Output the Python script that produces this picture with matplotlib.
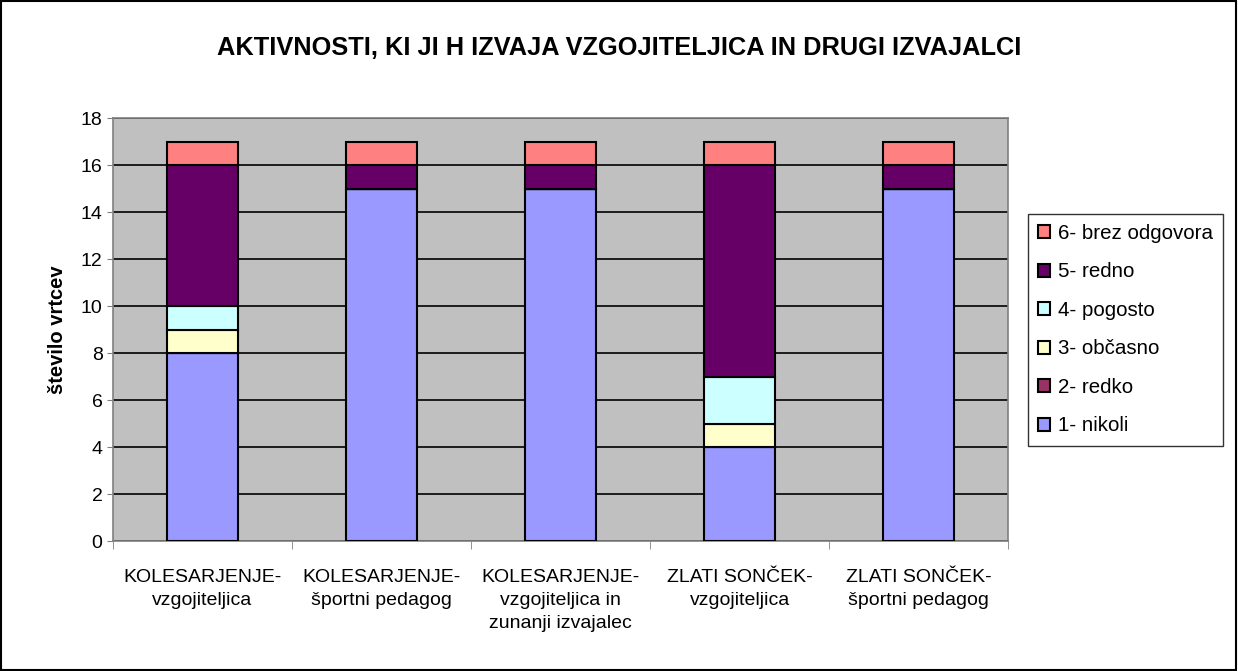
import numpy as np
import matplotlib.pyplot as plt
from matplotlib.patches import Rectangle

categories = ["KOLESARJENJE-\nvzgojiteljica", "KOLESARJENJE-\nšportni pedagog",
              "KOLESARJENJE-\nvzgojiteljica in\nzunanji izvajalec",
              "ZLATI SONČEK-\nvzgojiteljica", "ZLATI SONČEK-\nšportni pedagog"]
series = ["1- nikoli", "2- redko", "3- občasno", "4- pogosto", "5- redno", "6- brez odgovora"]
nikoli = [8, 15, 15, 4, 15]
redko = [0, 0, 0, 0, 0]
obcasno = [1, 0, 0, 1, 0]
pogosto = [1, 0, 0, 2, 0]
redno = [6, 1, 1, 9, 1]
brez = [1, 1, 1, 1, 1]
colors = ["#9999FF", "#993366", "#FFFFCC", "#CCFFFF", "#660066", "#FF8080"]

plt.rcParams['font.family'] = ['Liberation Sans', 'DejaVu Sans']

fig = plt.figure(figsize=(12.38, 6.71), dpi=100)
ax = fig.add_axes([0.0913, 0.1937, 0.723, 0.630])
ax.set_facecolor("#C0C0C0")

x = np.arange(len(categories))
bottom = np.zeros(len(categories))
handles = []
for name, vals, c in zip(series, [nikoli, redko, obcasno, pogosto, redno, brez], colors):
    vals = np.array(vals)
    h = ax.bar(x, vals, 0.4, bottom=bottom, color=c, edgecolor="black", linewidth=1.5,
               label=name, zorder=3)
    handles.append(h)
    bottom += vals

ax.set_xlim(-0.5, len(categories) - 0.5)
ax.set_ylim(0, 18)
ax.set_yticks(range(0, 19, 2))
ax.yaxis.grid(True, color="black", linewidth=1.2, zorder=0)
ax.set_axisbelow(True)
ax.tick_params(axis="y", labelsize=14, length=4, color="#808080")

ax.set_xticks(x)
ax.set_xticklabels(categories, fontsize=14, linespacing=1.45)
ax.tick_params(axis="x", length=0, pad=20)
ax.set_xticks(np.arange(-0.5, len(categories)), minor=True)
ax.tick_params(axis="x", which="minor", length=6, color="#808080")
for s in ax.spines.values():
    s.set_color("#808080")
    s.set_linewidth(1.2)

ax.set_ylabel("število vrtcev", fontsize=14.5, fontweight="bold", labelpad=10)
fig.text(0.5, 0.929, "AKTIVNOSTI, KI JI H IZVAJA VZGOJITELJICA IN DRUGI IZVAJALCI",
         ha="center", va="center", fontsize=18.3, fontweight="bold")

leg = ax.legend(handles[::-1], series[::-1], loc="center left", bbox_to_anchor=(1.022, 0.5),
                fontsize=14.8, frameon=True, fancybox=False, edgecolor="black",
                handlelength=0.6, handleheight=0.6, labelspacing=0.95, borderpad=0.5,
                handletextpad=0.35, borderaxespad=0)
leg.get_frame().set_linewidth(1.0)

fig.patches.append(Rectangle((0.001, 0.002), 0.997, 0.996, transform=fig.transFigure,
                             fill=False, edgecolor="black", linewidth=1.5))

fig.savefig("out.png", dpi=100)
